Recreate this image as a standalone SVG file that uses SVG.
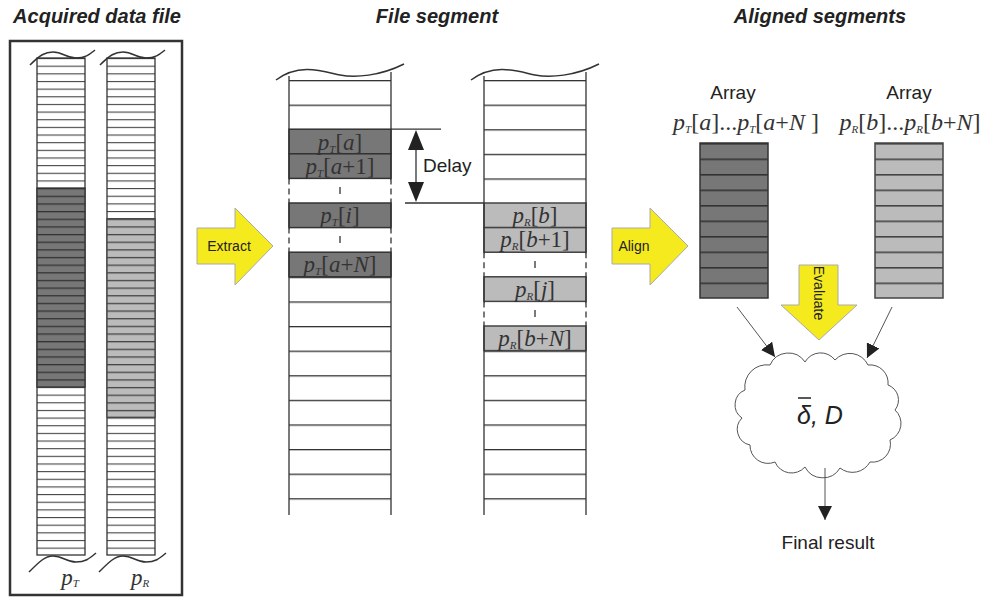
<svg xmlns="http://www.w3.org/2000/svg" width="1000" height="604" viewBox="0 0 1000 604">
<defs>
<pattern id="pW" patternUnits="userSpaceOnUse" x="0" y="58" width="10" height="7.65"><rect width="10" height="7.65" fill="#fff"/><rect width="10" height="1.1" fill="#444"/></pattern>
<pattern id="pD" patternUnits="userSpaceOnUse" x="0" y="58" width="10" height="7.65"><rect width="10" height="7.65" fill="#777"/><rect width="10" height="1.3" fill="#333"/></pattern>
<pattern id="pL" patternUnits="userSpaceOnUse" x="0" y="58" width="10" height="7.65"><rect width="10" height="7.65" fill="#bbb"/><rect width="10" height="1.3" fill="#444"/></pattern>
<pattern id="pM" patternUnits="userSpaceOnUse" x="0" y="80" width="10" height="24.6"><rect width="10" height="24.6" fill="#fff"/><rect width="10" height="1.3" fill="#333"/></pattern>
<pattern id="aD" patternUnits="userSpaceOnUse" x="0" y="143" width="10" height="15.5"><rect width="10" height="15.5" fill="#777"/><rect width="10" height="1.6" fill="#333"/></pattern>
<pattern id="aL" patternUnits="userSpaceOnUse" x="0" y="143" width="10" height="15.5"><rect width="10" height="15.5" fill="#bbb"/><rect width="10" height="1.6" fill="#444"/></pattern>
<marker id="ah" viewBox="0 0 10 10" refX="10" refY="5" markerWidth="14" markerHeight="14" orient="auto" markerUnits="userSpaceOnUse"><path d="M0,0 L10,5 L0,10 z" fill="#222"/></marker>
</defs>
<style>
.t{font-family:"Liberation Sans",Arial,sans-serif;font-weight:bold;font-style:italic;font-size:20px;fill:#222;text-anchor:middle}
.s{font-family:"Liberation Sans",Arial,sans-serif;fill:#222}
.m{font-family:"Liberation Serif","Times New Roman",serif;font-style:italic;font-size:23px;fill:#333;text-anchor:middle}
.a{font-size:24px}
.n{font-style:normal}
.sub{font-size:11px}
.c{stroke:#333;stroke-width:1.3}
.dk{fill:#777;stroke:#333;stroke-width:1.5}
.lt{fill:#bbb;stroke:#444;stroke-width:1.5}
.y{fill:#f5ea1e;stroke:#aaa;stroke-width:1}
.w{fill:none;stroke:#333;stroke-width:1.5}
</style>
<text class="t" x="97" y="23">Acquired data file</text>
<text class="t" x="437" y="23">File segment</text>
<text class="t" x="820" y="23">Aligned segments</text>

<g id="acquired">
<rect x="10" y="41" width="172" height="554" fill="none" stroke="#333" stroke-width="2.5"/>
<rect x="37" y="58" width="48" height="497" fill="url(#pW)" class="c"/>
<rect x="37" y="188" width="48" height="199" fill="url(#pD)" stroke="#333" stroke-width="1.3"/>
<rect x="107" y="58" width="48" height="497" fill="url(#pW)" class="c"/>
<rect x="107" y="218.7" width="48" height="198.6" fill="url(#pL)" stroke="#444" stroke-width="1.3"/>
<path class="w" d="M30,65 C40,55 45,52 53,52 C63,52 66,58 76,58 C86,58 90,54 95,50"/>
<path class="w" d="M100,65 C110,55 115,52 123,52 C133,52 136,58 146,58 C156,58 160,54 165,50"/>
<path fill="#fff" d="M29,572 C39,562 45,556 53,556 C63,556 66,562 76,562 C86,562 90,558 96,553 V580 H29 Z"/>
<path fill="#fff" d="M99,572 C109,562 115,556 123,556 C133,556 136,562 146,562 C156,562 160,558 166,553 V580 H99 Z"/>
<path class="w" d="M29,572 C39,562 45,556 53,556 C63,556 66,562 76,562 C86,562 90,558 96,553"/>
<path class="w" d="M99,572 C109,562 115,556 123,556 C133,556 136,562 146,562 C156,562 160,558 166,553"/>
<text class="m" x="70" y="585">p<tspan class="sub" dy="2">T</tspan></text>
<text class="m" x="140" y="585">p<tspan class="sub" dy="2">R</tspan></text>
</g>

<g id="extract">
<path class="y" d="M197,228 H235 V208 L273,246 L235,285 V264 H197 Z"/>
<text class="s" x="229" y="251" font-size="14" text-anchor="middle">Extract</text>
</g>

<g id="segT">
<rect x="289" y="80" width="102" height="435" fill="url(#pM)"/>
<path class="w" d="M276,80 C300,62 325,72 340,75 S380,76 404,64"/>
<rect x="289" y="129.2" width="102" height="24.6" class="dk"/>
<rect x="289" y="153.8" width="102" height="24.6" class="dk"/>
<rect x="290" y="179.2" width="100" height="23" fill="#fff"/>
<rect x="289" y="203" width="102" height="24.6" class="dk"/>
<rect x="290" y="228.4" width="100" height="23" fill="#fff"/>
<rect x="289" y="252.2" width="102" height="24.6" class="dk"/>
<path class="c" d="M289,76 V178.4 M391,72 V178.4 M289,203 V227.6 M391,203 V227.6 M289,252.2 V515 M391,252.2 V515"/>
<path class="c" stroke-dasharray="6,4" d="M289,178.4 V203 M391,178.4 V203 M289,227.6 V252.2 M391,227.6 V252.2"/>
<path class="c" d="M340,187 V194 M340,236 V243"/>
<text class="m" x="340" y="150">p<tspan class="sub" dy="3">T</tspan><tspan dy="-3" class="n">[</tspan>a<tspan class="n">]</tspan></text>
<text class="m" x="340" y="174">p<tspan class="sub" dy="3">T</tspan><tspan dy="-3" class="n">[</tspan>a<tspan class="n">+1]</tspan></text>
<text class="m" x="340" y="223">p<tspan class="sub" dy="3">T</tspan><tspan dy="-3" class="n">[</tspan>i<tspan class="n">]</tspan></text>
<text class="m" x="340" y="272">p<tspan class="sub" dy="3">T</tspan><tspan dy="-3" class="n">[</tspan>a<tspan class="n">+</tspan>N<tspan class="n">]</tspan></text>
</g>

<g id="segR">
<rect x="484" y="80" width="102" height="435" fill="url(#pM)"/>
<path class="w" d="M471,80 C495,62 520,72 535,75 S575,76 599,64"/>
<rect x="484" y="203" width="102" height="24.6" class="lt"/>
<rect x="484" y="227.6" width="102" height="24.6" class="lt"/>
<rect x="485" y="253" width="100" height="23" fill="#fff"/>
<rect x="484" y="276.8" width="102" height="24.6" class="lt"/>
<rect x="485" y="302.2" width="100" height="23" fill="#fff"/>
<rect x="484" y="326" width="102" height="24.6" class="lt"/>
<path class="c" d="M484,76 V252.2 M586,72 V252.2 M484,276.8 V301.4 M586,276.8 V301.4 M484,326 V515 M586,326 V515"/>
<path class="c" stroke-dasharray="6,4" d="M484,252.2 V276.8 M586,252.2 V276.8 M484,301.4 V326 M586,301.4 V326"/>
<path class="c" d="M535,261 V268 M535,310 V317"/>
<text class="m" x="535" y="223">p<tspan class="sub" dy="3">R</tspan><tspan dy="-3" class="n">[</tspan>b<tspan class="n">]</tspan></text>
<text class="m" x="535" y="247">p<tspan class="sub" dy="3">R</tspan><tspan dy="-3" class="n">[</tspan>b<tspan class="n">+1]</tspan></text>
<text class="m" x="535" y="297">p<tspan class="sub" dy="3">R</tspan><tspan dy="-3" class="n">[</tspan>j<tspan class="n">]</tspan></text>
<text class="m" x="535" y="346">p<tspan class="sub" dy="3">R</tspan><tspan dy="-3" class="n">[</tspan>b<tspan class="n">+</tspan>N<tspan class="n">]</tspan></text>
</g>

<g id="delay">
<path class="c" d="M391,129.2 H441 M405,203 H484 M416,145 V188"/>
<path d="M416,130 L408,150 L424,150 Z M416,202 L408,182 L424,182 Z" fill="#222"/>
<text class="s" x="423" y="172" font-size="19">Delay</text>
</g>

<g id="align">
<path class="y" d="M612,228 H650 V208 L688,246 L650,285 V264 H612 Z"/>
<text class="s" x="634" y="251" font-size="14" text-anchor="middle">Align</text>
</g>

<g id="arrayT">
<text class="s" x="733" y="99" font-size="19" text-anchor="middle">Array</text>
<text class="m a" x="746" y="130">p<tspan class="sub" dy="3">T</tspan><tspan dy="-3" class="n">[</tspan>a<tspan class="n">]...</tspan>p<tspan class="sub" dy="3">T</tspan><tspan dy="-3" class="n">[</tspan>a<tspan class="n">+</tspan>N<tspan class="n"> ]</tspan></text>
<rect x="700" y="143" width="68" height="155" fill="url(#aD)" stroke="#333" stroke-width="1.5"/>
</g>
<g id="arrayR">
<text class="s" x="909" y="99" font-size="19" text-anchor="middle">Array</text>
<text class="m a" x="910" y="130">p<tspan class="sub" dy="3">R</tspan><tspan dy="-3" class="n">[</tspan>b<tspan class="n">]...</tspan>p<tspan class="sub" dy="3">R</tspan><tspan dy="-3" class="n">[</tspan>b<tspan class="n">+</tspan>N<tspan class="n">]</tspan></text>
<rect x="875" y="143" width="68" height="155" fill="url(#aL)" stroke="#444" stroke-width="1.5"/>
</g>

<g id="evaluate">
<path class="y" d="M799,265 H838 V305 H857 L819,340 L781,305 H799 Z"/>
<text class="s" x="0" y="0" font-size="14" text-anchor="middle" transform="translate(814,293) rotate(90)">Evaluate</text>
</g>

<g id="cloud">
<path fill="#fff" stroke="#555" stroke-width="1" d="M745,390 A22,22 0 0 1 770,365 A20,20 0 0 1 805,362 A18,18 0 0 1 835,360 A20,20 0 0 1 868,365 A18,18 0 0 1 888,385 A16,16 0 0 1 895,410 A18,18 0 0 1 890,440 A18,18 0 0 1 870,462 A20,20 0 0 1 840,468 A20,20 0 0 1 805,467 A18,18 0 0 1 775,462 A18,18 0 0 1 750,445 A16,16 0 0 1 742,418 A16,16 0 0 1 745,390 Z"/>
<text class="s" x="820" y="424" font-size="25" font-style="italic" text-anchor="middle">δ, D</text>
<path d="M798,398 H811" stroke="#222" stroke-width="1.5"/>
</g>

<g id="final">
<text class="s" x="828" y="549" font-size="19" text-anchor="middle">Final result</text>
</g>

<g id="connectors" fill="none" stroke="#555" stroke-width="1">
<path d="M737,307 L775,357" marker-end="url(#ah)"/>
<path d="M892,307 L867,358" marker-end="url(#ah)"/>
<path d="M825,468 V520" marker-end="url(#ah)"/>
</g>
</svg>
